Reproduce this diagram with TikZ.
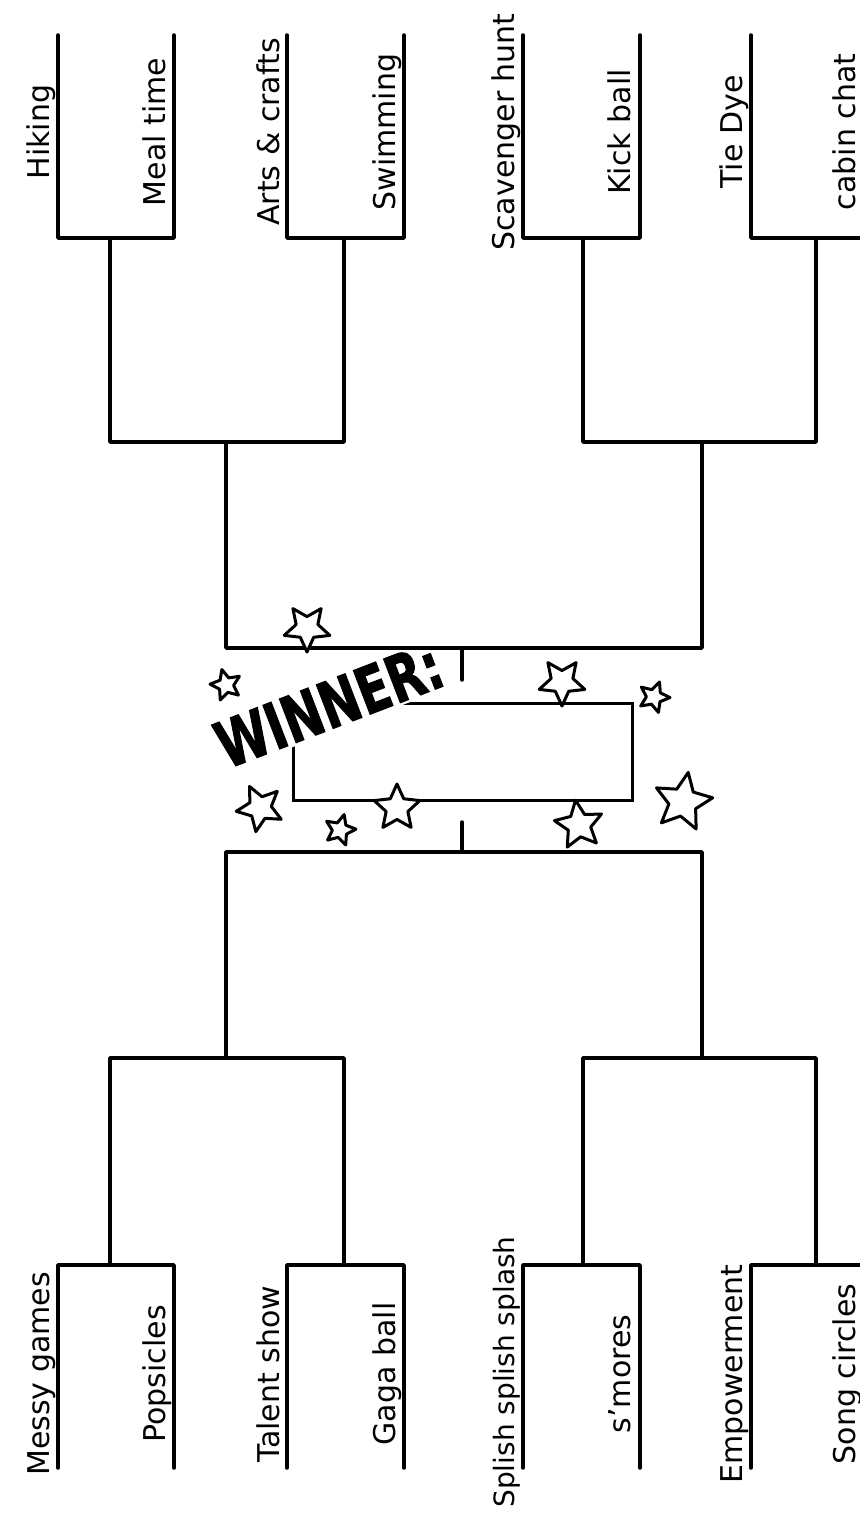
\documentclass[tikz,border=0pt]{standalone}
\usepackage{fontspec}
\setmainfont{DejaVu Sans}
\newfontfamily\winfont{DejaVu Sans Bold}[FakeBold=2]
\usepackage{tikz}
\usetikzlibrary{shapes.geometric,positioning}
\tikzset{
  bline/.style={line width=1.75pt,line join=round,line cap=round},
  lbl/.style={rotate=90,anchor=base,inner sep=0pt,
    font=\fontsize{15}{15}\selectfont},
  wstar/.style={star,star points=5,star point ratio=2.1,draw,line width=1.5pt,
    fill=white,inner sep=0pt,line join=round},
  winbox/.style={draw,line width=1.5pt,minimum width=169.5pt,
    minimum height=48.5pt,inner sep=0pt},
  wtxt/.style={font=\fontsize{32}{32}\winfont,rotate=21,
    xscale=0.74,inner sep=1.5pt,fill=white},
}

\begin{document}
\begin{tikzpicture}[x=0.5pt,y=-0.5pt]
\useasboundingbox (0,0) rectangle (860,1513);
\clip (0,0) rectangle (860,1513);
\fill[white] (0,0) rectangle (860,1513);
% winner box and title (white ground hides the box corner)
\node[winbox] (win) at (462.5,751.5) {};
\node[wtxt] (wtitle) at (329,705) {WINNER:};
% top half: first round
\draw[bline] (58,35) |- (174,238) -- (174,35);
\draw[bline] (287,35) |- (404,238) -- (404,35);
\draw[bline] (523,35) |- (640,238) -- (640,35);
\draw[bline] (751,35) |- (868,238) -- (868,35);
% top half: second and third round
\draw[bline] (110,238) |- (344,442) -- (344,238);
\draw[bline] (583,238) |- (816,442) -- (816,238);
\draw[bline] (226,442) |- (702,648) -- (702,442);
\draw[bline] (462,648) -- (462,680);
% bottom half: first round
\draw[bline] (58,1468) |- (174,1265) -- (174,1468);
\draw[bline] (287,1468) |- (404,1265) -- (404,1468);
\draw[bline] (523,1468) |- (640,1265) -- (640,1468);
\draw[bline] (751,1468) |- (868,1265) -- (868,1468);
% bottom half: second and third round
\draw[bline] (110,1265) |- (344,1058) -- (344,1265);
\draw[bline] (583,1265) |- (816,1058) -- (816,1265);
\draw[bline] (226,1058) |- (702,852) -- (702,1058);
\draw[bline] (462,852) -- (462,822);
% top labels
\node[lbl] (hik) at (49,132) {Hiking};
\node[lbl] (meal) at (165,132) {Meal time};
\node[lbl] (arts) at (279,132) {Arts \& crafts};
\node[lbl] (swim) at (395,132) {Swimming};
\node[lbl] (scav) at (514,132) {Scavenger hunt};
\node[lbl] (kick) at (630,132) {Kick ball};
\node[lbl] (tie) at (742,132) {Tie Dye};
\node[lbl] (cabin) at (855,132) {cabin chat};
% bottom labels
\node[lbl] (messy) at (49,1374) {Messy games};
\node[lbl] (pops) at (165,1374) {Popsicles};
\node[lbl] (talent) at (279,1374) {Talent show};
\node[lbl] (gaga) at (395,1374) {Gaga ball};
\node[lbl,font=\fontsize{14}{14}\selectfont] (splish) at (514,1372) {Splish splish splash};
\node[lbl] (smores) at (630,1374) {s'mores};
\node[lbl] (empow) at (742,1374) {Empowerment};
\node[lbl] (song) at (855,1374) {Song circles};
% stars
\node[wstar,minimum size=24pt,rotate=180] (st1) at (307,628) {};
\node[wstar,minimum size=16pt,rotate=15] (st2) at (226,685) {};
\node[wstar,minimum size=24pt,rotate=180] (st3) at (562,682) {};
\node[wstar,minimum size=16pt,rotate=-20] (st4) at (654,697) {};
\node[wstar,minimum size=24pt,rotate=170] (st5) at (260,808) {};
\node[wstar,minimum size=16pt,rotate=-15] (st6) at (340,830) {};
\node[wstar,minimum size=24pt] (st7) at (397,808) {};
\node[wstar,minimum size=25pt,rotate=8] (st8) at (579,825) {};
\node[wstar,minimum size=30pt,rotate=-10] (st9) at (683,802) {};
\end{tikzpicture}
\end{document}
